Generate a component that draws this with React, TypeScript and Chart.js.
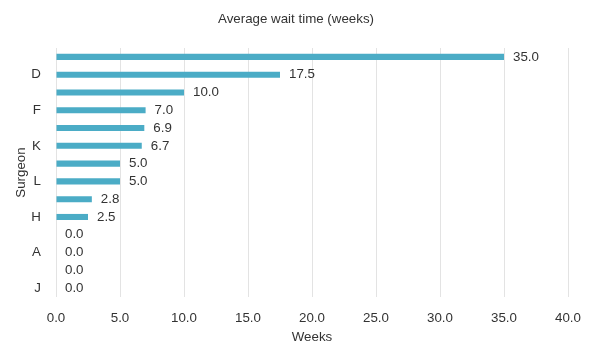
import React, { useEffect, useRef } from "react";
import { Chart, registerables } from "chart.js";

Chart.register(...registerables);

const surgeons = ["B", "D", "C", "F", "E", "K", "G", "L", "I", "H", "M", "A", "N", "J"];
const waitWeeks = [35.0, 17.5, 10.0, 7.0, 6.9, 6.7, 5.0, 5.0, 2.8, 2.5, 0.0, 0.0, 0.0, 0.0];
const xTicks = [0, 5, 10, 15, 20, 25, 30, 35, 40];
const chartTitle = "Average wait time (weeks)";

const FONT = "'Liberation Sans', Arial, Helvetica, sans-serif";
const FS = 13.33;
const TEXT = "#333333";

const valueLabels = {
  id: "valueLabels",
  afterDatasetsDraw(chart: any) {
    const ctx = chart.ctx;
    const meta = chart.getDatasetMeta(0);
    ctx.save();
    ctx.font = `${FS}px ${FONT}`;
    ctx.fillStyle = TEXT;
    ctx.textBaseline = "middle";
    ctx.textAlign = "left";
    meta.data.forEach((bar: any, i: number) => {
      ctx.fillText(waitWeeks[i].toFixed(1), bar.x + 9, bar.y);
    });
    ctx.restore();
  },
};

const centeredTitle = {
  id: "centeredTitle",
  afterDraw(chart: any) {
    const ctx = chart.ctx;
    ctx.save();
    ctx.font = `${FS}px ${FONT}`;
    ctx.fillStyle = TEXT;
    ctx.textBaseline = "middle";
    ctx.textAlign = "center";
    ctx.fillText(chartTitle, chart.width / 2 + 1, 19);
    ctx.restore();
  },
};

export default function App() {
  const ref = useRef<HTMLCanvasElement | null>(null);
  useEffect(() => {
    document.body.style.margin = "0";
    const chart = new Chart(ref.current!, {
      type: "bar",
      data: {
        labels: surgeons,
        datasets: [
          {
            data: waitWeeks,
            backgroundColor: "#4bacc6",
            barPercentage: 0.68,
            categoryPercentage: 0.5,
          },
        ],
      },
      plugins: [valueLabels, centeredTitle],
      options: {
        indexAxis: "y",
        animation: false,
        responsive: false,
        layout: { padding: { left: 13, right: 22, top: 48, bottom: 0 } },
        plugins: {
          legend: { display: false },
          tooltip: { enabled: false },
          title: { display: false },
        },
        scales: {
          x: {
            min: 0,
            max: 40,
            afterBuildTicks: (axis: any) => {
              axis.ticks = xTicks.map((v) => ({ value: v }));
            },
            afterFit: (axis: any) => {
              axis.height = 48;
              axis.paddingRight = 0;
              axis.paddingLeft = 0;
            },
            ticks: {
              color: TEXT,
              font: { family: FONT, size: FS },
              padding: 13,
              callback: (v: any) => Number(v).toFixed(1),
            },
            grid: { color: "#e3e3e3", drawTicks: false },
            border: { display: false },
            title: {
              display: true,
              text: "Weeks",
              color: TEXT,
              font: { family: FONT, size: FS },
              padding: { top: 5, bottom: 0 },
            },
          },
          y: {
            afterFit: (axis: any) => {
              axis.width = 43;
            },
            ticks: {
              color: TEXT,
              font: { family: FONT, size: FS },
              autoSkip: false,
              padding: 15,
              callback: (_v: any, i: number) => (i % 2 === 1 ? surgeons[i] : ""),
            },
            grid: { display: false, drawTicks: false },
            border: { display: false },
            title: {
              display: true,
              text: "Surgeon",
              color: TEXT,
              font: { family: FONT, size: FS },
              padding: { top: 0, bottom: 5 },
            },
          },
        },
      },
    });
    return () => chart.destroy();
  }, []);
  return (
    <div style={{ width: 590, height: 345 }}>
      <canvas ref={ref} width={590} height={345} />
    </div>
  );
}
